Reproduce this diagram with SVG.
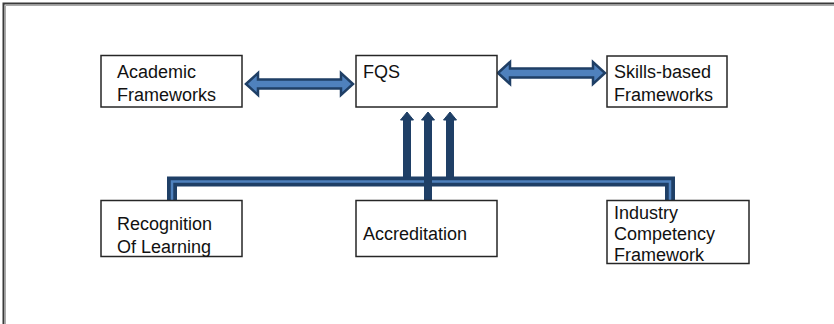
<svg xmlns="http://www.w3.org/2000/svg" width="834" height="324" viewBox="0 0 834 324">
<style>
.box{fill:#fff;stroke:#262626;stroke-width:1.5}
.t{font-family:"Liberation Sans",Arial,sans-serif;font-size:18px;fill:#111}
.dbl{fill:#4F81BD;stroke:#1F3F66;stroke-width:2.5;stroke-linejoin:miter}
.up{fill:#1F3F66;stroke:#1F3F66;stroke-width:1}
.barD{fill:none;stroke:#1F3F66;stroke-width:10}
.barL{fill:none;stroke:#4F81BD;stroke-width:2.5}
</style>
<rect width="834" height="324" fill="#fff"/>
<rect x="3.5" y="3.5" width="900" height="400" fill="none" stroke="#3a3a3a" stroke-width="2"/>
<line x1="5.5" y1="5.5" x2="834" y2="5.5" stroke="#aaa" stroke-width="1"/>
<line x1="5.5" y1="5.5" x2="5.5" y2="324" stroke="#aaa" stroke-width="1"/>

<g id="connectors">
  <polygon class="dbl" points="246,84 258,73 258,79.5 341,79.5 341,73 353,84 341,95 341,88.5 258,88.5 258,95"/>
  <polygon class="dbl" points="498,73 510,62 510,68.5 593,68.5 593,62 605,73 593,84 593,77.5 510,77.5 510,84"/>
  <polyline class="barD" points="172,203 172,181.5 670,181.5 670,203"/>
  <polyline class="barL" points="172,203 172,181.5 670,181.5 670,203"/>
  <polygon class="up" points="403.5,177 403.5,120 400.5,120 407,112 413.5,120 410.5,120 410.5,177"/>
  <polygon class="up" points="424.5,200 424.5,120 421.5,120 428,112 434.5,120 431.5,120 431.5,200"/>
  <polygon class="up" points="446.5,177 446.5,120 443.5,120 450,112 456.5,120 453.5,120 453.5,177"/>
</g>

<g id="academic">
  <rect class="box" x="101" y="55.5" width="141" height="51.5"/>
  <text class="t" x="117" y="78">Academic</text>
  <text class="t" x="117" y="101">Frameworks</text>
</g>
<g id="fqs">
  <rect class="box" x="356" y="55.5" width="141" height="51.5"/>
  <text class="t" x="363" y="78">FQS</text>
</g>
<g id="skills">
  <rect class="box" x="607" y="56" width="120" height="51"/>
  <text class="t" x="614" y="78">Skills-based</text>
  <text class="t" x="614" y="101">Frameworks</text>
</g>
<g id="recognition">
  <rect class="box" x="101" y="200.5" width="141" height="56"/>
  <text class="t" x="117" y="230">Recognition</text>
  <text class="t" x="117" y="253">Of Learning</text>
</g>
<g id="accreditation">
  <rect class="box" x="356" y="200.5" width="141" height="56"/>
  <text class="t" x="363" y="240">Accreditation</text>
</g>
<g id="industry">
  <rect class="box" x="607" y="200.5" width="142" height="63"/>
  <text class="t" x="614" y="219">Industry</text>
  <text class="t" x="614" y="240">Competency</text>
  <text class="t" x="614" y="261">Framework</text>
</g>
</svg>
